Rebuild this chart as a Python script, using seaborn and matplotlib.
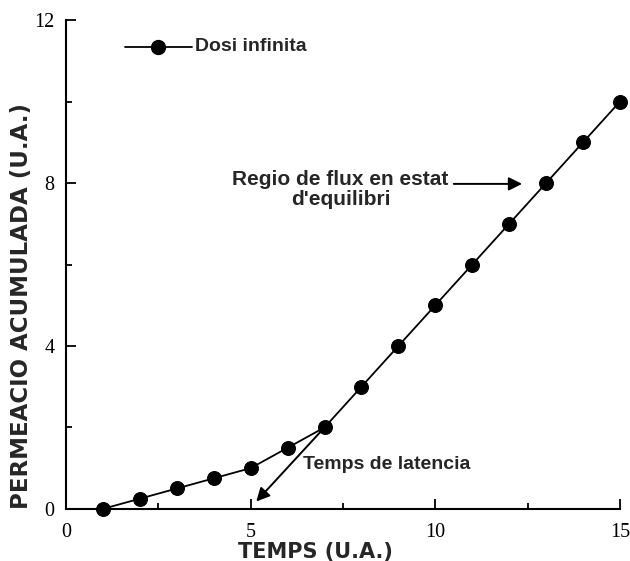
import matplotlib
matplotlib.use("Agg")
import matplotlib.pyplot as plt
import seaborn as sns
import pandas as pd
from matplotlib.ticker import MultipleLocator

# data
temps = [1, 2, 3, 4, 5, 6, 7, 8, 9, 10, 11, 12, 13, 14, 15]
permeacio = [0, 0.25, 0.5, 0.75, 1.0, 1.5, 2.0, 3.0, 4.0, 5.0, 6.0, 7.0, 8.0, 9.0, 10.0]
serie = "Dosi infinita"

df = pd.DataFrame({"temps": temps, "permeacio": permeacio, "serie": serie})

sns.set_style("ticks")
plt.rcParams["font.family"] = ["Liberation Sans", "DejaVu Sans"]
plt.rcParams["xtick.direction"] = "in"
plt.rcParams["ytick.direction"] = "in"

fig = plt.figure(figsize=(6.3, 5.61), dpi=100)
ax = fig.add_axes([0.105, 0.093, 0.879, 0.871])

sns.lineplot(data=df, x="temps", y="permeacio", hue="serie", palette=["black"],
             marker="o", markersize=10, markeredgecolor="black", linewidth=1.3,
             clip_on=False, ax=ax, legend=False)

ax.set_xlim(0, 15)
ax.set_ylim(0, 12)
ax.xaxis.set_major_locator(MultipleLocator(5))
ax.xaxis.set_minor_locator(MultipleLocator(2.5))
ax.yaxis.set_major_locator(MultipleLocator(4))
ax.yaxis.set_minor_locator(MultipleLocator(2))
ax.tick_params(which="both", direction="in", width=1.3, colors="black",
               labelsize=14.5, labelfontfamily="Liberation Serif")
ax.tick_params(which="major", length=7)
ax.tick_params(which="minor", length=4)
ax.tick_params(axis="x", pad=10)
ax.tick_params(axis="y", pad=8.5)

sns.despine(ax=ax)
for s in ["left", "bottom"]:
    ax.spines[s].set_linewidth(1.5)
    ax.spines[s].set_color("black")

ax.set_xlabel("TEMPS (U.A.)", fontsize=15, fontweight="bold",
              fontfamily="DejaVu Sans")
ax.xaxis.set_label_coords(0.45, -0.068)
ax.set_ylabel("PERMEACIO ACUMULADA (U.A.)", fontsize=16.5, fontweight="bold",
              fontfamily="DejaVu Sans")
ax.yaxis.set_label_coords(-0.06, 0.415)

# legend drawn by hand in the upper left
ax.plot([1.6, 3.4], [11.35, 11.35], color="black", linewidth=1.3)
ax.plot([2.5], [11.35], marker="o", markersize=10, color="black")
ax.text(3.5, 11.35, serie, fontsize=14, fontweight="bold", va="center", ha="left")

# annotations
ax.text(7.43, 7.85, "Regio de flux en estat\nd'equilibri", fontsize=15,
        fontweight="bold", ha="center", va="center", linespacing=1.05)
ax.annotate("", xy=(12.35, 7.98), xytext=(10.5, 7.98),
            arrowprops=dict(arrowstyle="-|>", color="black", lw=1.4,
                            mutation_scale=20, shrinkA=0, shrinkB=0))
ax.annotate("", xy=(5.15, 0.18), xytext=(7.0, 2.0),
            arrowprops=dict(arrowstyle="-|>", color="black", lw=1.4,
                            mutation_scale=20, shrinkA=0, shrinkB=0))
ax.text(6.42, 1.1, "Temps de latencia", fontsize=14, fontweight="bold",
        ha="left", va="center")

fig.savefig("out.png", dpi=100)
